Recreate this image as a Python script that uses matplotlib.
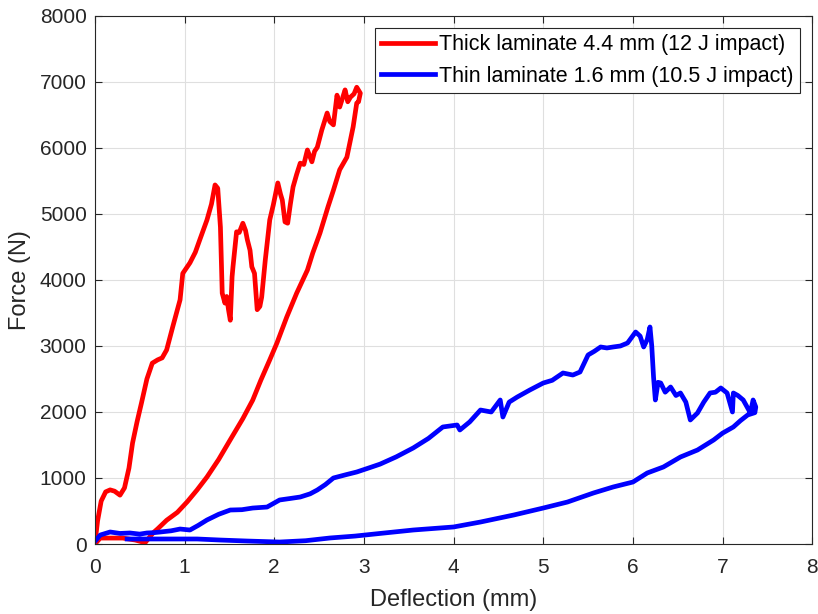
import matplotlib
matplotlib.use("Agg")
import matplotlib.pyplot as plt
import numpy as np

# Thick laminate 4.4 mm (12 J impact) - loading then unloading (deflection mm, force N)
thick_x = [0.00, 0.03, 0.07, 0.12, 0.17, 0.22, 0.28, 0.33, 0.38, 0.42, 0.47, 0.52, 0.58, 0.64, 0.70,
           0.75, 0.80, 0.87, 0.95, 0.98, 1.06, 1.12, 1.17, 1.25, 1.30, 1.34, 1.37, 1.40, 1.42, 1.45,
           1.47, 1.49, 1.51, 1.53, 1.54, 1.58, 1.61, 1.65, 1.68, 1.70, 1.73, 1.75, 1.78, 1.81, 1.84,
           1.86, 1.90, 1.95, 1.99, 2.04, 2.07, 2.09, 2.12, 2.15, 2.18, 2.21, 2.25, 2.29, 2.33, 2.37,
           2.42, 2.45, 2.48, 2.53, 2.59, 2.62, 2.66, 2.70, 2.73, 2.76, 2.79, 2.82, 2.85, 2.89, 2.92,
           2.96, 2.94, 2.92, 2.88, 2.81, 2.73, 2.66, 2.60, 2.51, 2.43, 2.37, 2.25, 2.14, 2.03, 1.95,
           1.85, 1.76, 1.65, 1.51, 1.38, 1.25, 1.14, 1.03, 0.92, 0.80, 0.70, 0.65, 0.56, 0.45, 0.31,
           0.18, 0.06, 0.00]
thick_f = [0, 350, 650, 790, 820, 800, 740, 850, 1150, 1530, 1850, 2140, 2500, 2740, 2790,
           2820, 2940, 3300, 3700, 4100, 4260, 4420, 4610, 4910, 5150, 5440, 5390, 4800, 3800, 3650,
           3750, 3550, 3390, 4050, 4200, 4730, 4720, 4860, 4750, 4610, 4450, 4200, 4100, 3550, 3600,
           3740, 4300, 4910, 5140, 5470, 5300, 5210, 4880, 4860, 5150, 5410, 5600, 5770, 5750, 5970,
           5790, 5950, 6010, 6270, 6530, 6400, 6350, 6800, 6620, 6750, 6880, 6700, 6770, 6820, 6920,
           6830, 6700, 6680, 6320, 5860, 5670, 5360, 5110, 4710, 4410, 4150, 3800, 3440, 3045, 2790,
           2480, 2180, 1900, 1580, 1280, 1015, 820, 640, 480, 360, 230, 170, 20, 60, 90,
           90, 90, 0]

# Thin laminate 1.6 mm (10.5 J impact)
thin_x = [0.00, 0.06, 0.17, 0.28, 0.39, 0.50, 0.58, 0.66, 0.73, 0.85, 0.95, 1.06, 1.15, 1.25, 1.38,
          1.51, 1.64, 1.76, 1.92, 2.06, 2.18, 2.29, 2.40, 2.48, 2.57, 2.66, 2.80, 2.92, 3.05, 3.18,
          3.36, 3.55, 3.72, 3.88, 4.04, 4.07, 4.18, 4.30, 4.42, 4.52, 4.55, 4.62, 4.71, 4.85, 5.00,
          5.10, 5.22, 5.33, 5.41, 5.50, 5.57, 5.64, 5.71, 5.78, 5.86, 5.94, 6.03, 6.08, 6.12, 6.16,
          6.19, 6.21, 6.23, 6.25, 6.28, 6.31, 6.36, 6.42, 6.48, 6.53, 6.59, 6.64, 6.72, 6.79, 6.86,
          6.92, 6.98, 7.05, 7.11, 7.12, 7.17, 7.23, 7.31, 7.34, 7.37, 7.36, 7.28, 7.20, 7.12, 7.00,
          6.90, 6.72, 6.53, 6.34, 6.16, 6.00, 5.78, 5.56, 5.27, 5.00, 4.67, 4.30, 4.00, 3.55, 3.18,
          2.90, 2.62, 2.35, 2.06, 1.70, 1.40, 1.14, 0.86, 0.58, 0.36]
thin_f = [40, 136, 182, 160, 167, 150, 167, 172, 182, 200, 227, 212, 280, 364, 450,
          515, 520, 545, 560, 667, 690, 712, 760, 818, 900, 1000, 1050, 1091, 1150, 1210,
          1320, 1455, 1600, 1773, 1803, 1727, 1850, 2030, 2000, 2182, 1924, 2150, 2227, 2333, 2439,
          2480, 2591, 2560, 2606, 2864, 2920, 2985, 2970, 2985, 3000, 3045, 3212, 3150, 2985, 3100,
          3288, 3000, 2530, 2182, 2450, 2439, 2300, 2379, 2250, 2288, 2150, 1879, 1985, 2150, 2288,
          2300, 2364, 2288, 2000, 2288, 2250, 2182, 1985, 2182, 2076, 1990, 1955, 1870, 1773, 1680,
          1576, 1424, 1318, 1167, 1076, 939, 864, 773, 636, 545, 439, 333, 258, 212, 160,
          120, 91, 50, 30, 45, 60, 76, 76, 76, 76]

x_ticks = [0, 1, 2, 3, 4, 5, 6, 7, 8]
y_ticks = [0, 1000, 2000, 3000, 4000, 5000, 6000, 7000, 8000]

plt.rcParams['font.family'] = ['Liberation Sans', 'DejaVu Sans']

fig = plt.figure(figsize=(8.18, 6.14), dpi=100)
ax = fig.add_axes([0.116, 0.114, 0.877, 0.860])

ax.plot(thick_x, thick_f, color='#ff0000', lw=3.4, solid_joinstyle='round',
        label='Thick laminate 4.4 mm (12 J impact)')
ax.plot(thin_x, thin_f, color='#0000ff', lw=3.4, solid_joinstyle='round',
        label='Thin laminate 1.6 mm (10.5 J impact)')

ax.set_xlim(0, 8)
ax.set_ylim(0, 8000)
ax.set_xticks(x_ticks)
ax.set_yticks(y_ticks)
ax.grid(True, color='#dfdfdf', lw=0.8)
ax.set_axisbelow(True)
ax.tick_params(direction='in', top=True, right=True, length=5, width=0.8,
               labelsize=15, colors='#262626')
ax.tick_params(axis='x', pad=10)
ax.tick_params(axis='y', pad=6)
for s in ax.spines.values():
    s.set_color('#262626')
    s.set_linewidth(0.8)

ax.set_xlabel('Deflection (mm)', fontsize=17, color='#262626', labelpad=9)
ax.set_ylabel('Force (N)', fontsize=17, color='#262626', labelpad=6)

leg = ax.legend(loc='upper right', fontsize=15.5, frameon=True, fancybox=False,
                edgecolor='#262626', framealpha=1, handlelength=2.5,
                borderaxespad=0.55, borderpad=0.3, labelspacing=0.5, handletextpad=0.2)
leg.get_frame().set_linewidth(0.8)

fig.savefig('out.png', dpi=100)
